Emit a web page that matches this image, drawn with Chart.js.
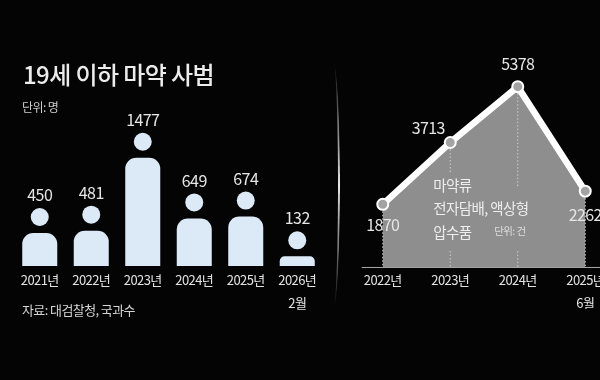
<!DOCTYPE html>
<html>
<head>
<meta charset="utf-8">
<script src="https://cdn.jsdelivr.net/npm/chart.js@4"></script>
<style>
    html, body { margin: 0; width: 600px; height: 380px; overflow: hidden; background: #040404; }
    body { position: relative; }
    canvas { position: absolute; top: 0; }
    #bar-chart { left: 0; }
    #line-chart { left: 340px; }
    #divider { position: absolute; left: 333px; top: 60px; width: 5px; height: 250px; box-sizing: content-box;
        border-right: 2px solid #e8e8e8; border-radius: 0 100% 100% 0 / 0 50% 50% 0;
        -webkit-mask-image: linear-gradient(to bottom, transparent, rgba(0,0,0,.5) 25%, #000 50%, rgba(0,0,0,.5) 75%, transparent);
        mask-image: linear-gradient(to bottom, transparent, rgba(0,0,0,.5) 25%, #000 50%, rgba(0,0,0,.5) 75%, transparent); }
</style>
</head>
<body>
<canvas id="bar-chart" width="330" height="380"></canvas>
<canvas id="line-chart" width="290" height="380"></canvas>
<div id="divider"></div>

<script>
const barLabels = ["2021년", "2022년", "2023년", "2024년", "2025년", ["2026년", "2월"]];
const barValues = [450, 481, 1477, 649, 674, 132];

const lineLabels = ["2022년", "2023년", "2024년", ["2025년", "6월"]];
const lineValues = [1870, 3713, 5378, 2262];

const titleText = "19세 이하 마약 사범";
const unitText = "단위: 명";
const sourceText = "자료: 대검찰청, 국과수";
const noteLines = ["마약류", "전자담배, 액상형", "압수품"];
const noteUnit = "단위: 건";

const KR = '"Noto Sans CJK KR", sans-serif';

// tighter text like the print graphic
const tightText = {
    id: 'tightText',
    beforeDraw(chart) {
        chart.ctx.letterSpacing = '-0.6px';
    }
};

// head of each person + the value over it, plus the left panel's captions
const heads = {
    id: 'heads',
    afterDatasetsDraw(chart) {
        const ctx = chart.ctx;
        const meta = chart.getDatasetMeta(0);
        ctx.save();
        ctx.textBaseline = 'middle';
        meta.data.forEach((bar, i) => {
            ctx.fillStyle = '#dce9f7';
            ctx.beginPath();
            ctx.arc(bar.x, bar.y - 16, 9, 0, Math.PI * 2);
            ctx.fill();
            ctx.fillStyle = '#e6e6e6';
            ctx.font = '16px ' + KR;
            ctx.textAlign = 'center';
            ctx.fillText(barValues[i], bar.x, bar.y - 38);
        });
        ctx.textAlign = 'left';
        ctx.fillStyle = '#ececec';
        ctx.font = '500 24px ' + KR;
        ctx.fillText(titleText, 23, 75);
        ctx.fillStyle = '#cfcfcf';
        ctx.font = '12px ' + KR;
        ctx.fillText(unitText, 22, 107);
        ctx.fillStyle = '#d4d4d4';
        ctx.font = '13px ' + KR;
        ctx.fillText(sourceText, 22, 310);
        ctx.restore();
    }
};

new Chart(document.querySelector('#bar-chart').getContext('2d'), {
    type: 'bar',
    data: {
        labels: barLabels,
        datasets: [{
            data: barValues,
            backgroundColor: '#dce9f7',
            borderRadius: { topLeft: 11, topRight: 11 },
            borderSkipped: 'bottom',
            barPercentage: 0.68,
            categoryPercentage: 1
        }]
    },
    options: {
        responsive: false,
        animation: false,
        layout: { padding: { left: 14, right: 7, top: 0, bottom: 70 } },
        plugins: { legend: { display: false }, tooltip: { enabled: false } },
        scales: {
            x: {
                grid: { display: false },
                border: { display: false },
                ticks: { color: '#e2e2e2', font: { family: KR, size: 13, lineHeight: 1.77 }, maxRotation: 0, autoSkip: false, padding: -5 }
            },
            y: { display: false, min: 0, max: 3630 }
        }
    },
    plugins: [tightText, heads]
});

const lineLabelPos = [[0, 21], [-22, -15], [0, -23], [0, 24]];

const lineDecor = {
    id: 'lineDecor',
    // dotted drop lines sit on the grey fill, under the line
    beforeDatasetDraw(chart) {
        const ctx = chart.ctx;
        const meta = chart.getDatasetMeta(0);
        const base = chart.scales.y.getPixelForValue(0);
        ctx.save();
        ctx.strokeStyle = '#cfcfcf';
        ctx.lineWidth = 1;
        ctx.setLineDash([1.5, 2]);
        meta.data.forEach(pt => {
            ctx.beginPath();
            ctx.moveTo(pt.x, pt.y);
            ctx.lineTo(pt.x, base);
            ctx.stroke();
        });
        ctx.restore();
    },
    afterDatasetDraw(chart) {
        const ctx = chart.ctx;
        const meta = chart.getDatasetMeta(0);
        const base = chart.scales.y.getPixelForValue(0);
        const a = meta.data[0];
        const b = meta.data[1];
        ctx.save();
        ctx.setLineDash([]);

        // base line runs to the page edge
        ctx.strokeStyle = '#a8a8a8';
        ctx.lineWidth = 1;
        ctx.beginPath();
        ctx.moveTo(a.x - 21, base + 0.5);
        ctx.lineTo(chart.width, base + 0.5);
        ctx.stroke();

        // note block hides the dotted lines behind it
        ctx.fillStyle = '#8e8e8e';
        ctx.fillRect(b.x - 17, 172, 44, 78);
        ctx.fillRect(b.x - 17, 187, 105, 63);
        ctx.fillStyle = '#eeeeee';
        ctx.font = '14.5px ' + KR;
        ctx.textBaseline = 'middle';
        noteLines.forEach((t, i) => ctx.fillText(t, b.x - 17, 185 + i * 23.5));
        ctx.font = '10.5px ' + KR;
        ctx.fillStyle = '#dddddd';
        ctx.fillText(noteUnit, b.x + 44, 231);

        ctx.fillStyle = '#e6e6e6';
        ctx.font = '16px ' + KR;
        ctx.textAlign = 'center';
        meta.data.forEach((pt, i) => {
            ctx.fillText(lineValues[i], pt.x + lineLabelPos[i][0], pt.y + lineLabelPos[i][1]);
        });
        ctx.restore();
    }
};

new Chart(document.querySelector('#line-chart').getContext('2d'), {
    type: 'line',
    data: {
        labels: lineLabels,
        datasets: [{
            data: lineValues,
            borderColor: '#ffffff',
            borderWidth: 6.5,
            backgroundColor: '#8e8e8e',
            fill: 'origin',
            tension: 0,
            pointRadius: 5.5,
            pointBorderWidth: 2,
            pointBorderColor: '#ffffff',
            pointBackgroundColor: '#a3a3a3'
        }]
    },
    options: {
        responsive: false,
        animation: false,
        layout: { padding: { left: 9, right: 11, top: 0, bottom: 71 } },
        plugins: { legend: { display: false }, tooltip: { enabled: false } },
        scales: {
            x: {
                offset: true,
                grid: { display: false },
                border: { display: false },
                ticks: { color: '#e2e2e2', font: { family: KR, size: 13, lineHeight: 1.77 }, maxRotation: 0, autoSkip: false, padding: -6 }
            },
            y: { display: false, min: 0, max: 7740 }
        }
    },
    plugins: [tightText, lineDecor]
});
</script>
</body>
</html>
